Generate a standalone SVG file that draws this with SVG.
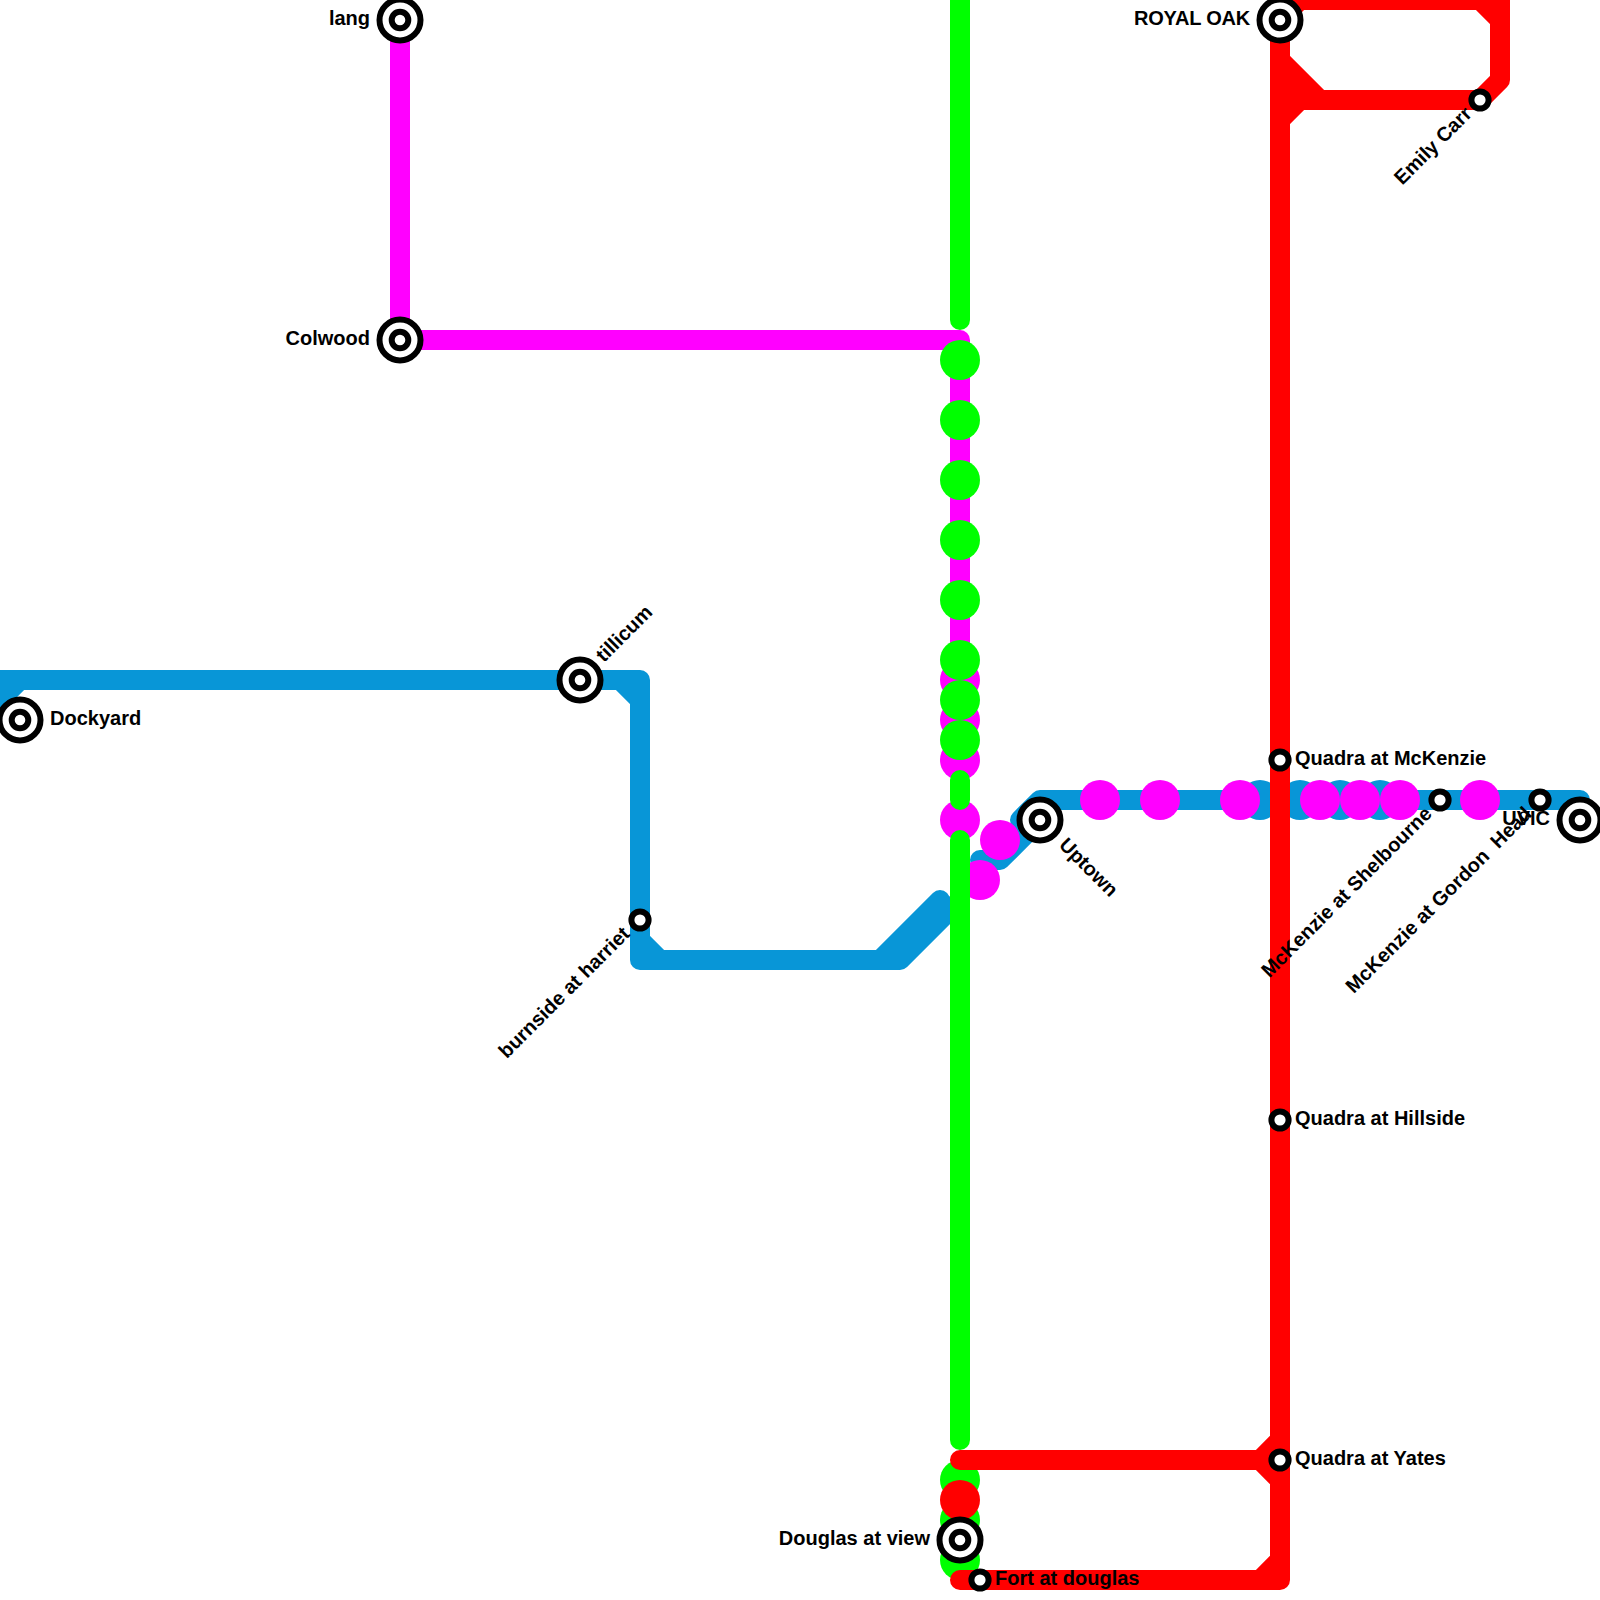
<svg xmlns="http://www.w3.org/2000/svg" width="1600" height="1600" viewBox="0 0 1600 1600">
<style>
.l{fill:none;stroke-width:20;stroke-linecap:round;stroke-linejoin:round}
.blue{stroke:#0896d7}.mag{stroke:#ff00ff}.grn{stroke:#00ff00}.red{stroke:#ff0000}
.fb{fill:#0896d7}.fm{fill:#ff00ff}.fg{fill:#00ff00}.fr{fill:#ff0000}
.ring{fill:#fff;stroke:#000;stroke-width:6}
text{font-family:"Liberation Sans",Arial,sans-serif;font-size:20px;font-weight:700;fill:#000;white-space:pre}
.e{text-anchor:end}
</style>
<defs>
<g id="big"><circle r="20.5" class="ring"/><circle r="8.3" class="ring"/></g>
<circle id="small" r="8.6" class="ring"/>
<circle id="dot" r="20"/>
</defs>
<rect width="1600" height="1600" fill="#fff"/>
<g id="connectors">
<g id="line-blue">
<path class="l blue" d="M-10 710L20 680M-10 680H640V960H900L960 900M620 680L640 700M640 940L660 960M880 960L940 900"/>
<path class="l blue" d="M1580 800H1040L1020 820M1040 820L1000 860H980"/>
<g class="fb"><use href="#dot" x="1260" y="800"/><use href="#dot" x="1300" y="800"/><use href="#dot" x="1340" y="800"/><use href="#dot" x="1380" y="800"/></g>
</g>
<g id="line-magenta">
<path class="l mag" d="M400 20V340H960V660"/>
<g class="fm"><use href="#dot" x="960" y="680"/><use href="#dot" x="960" y="720"/><use href="#dot" x="960" y="760"/><use href="#dot" x="960" y="820"/><use href="#dot" x="1000" y="840"/><use href="#dot" x="980" y="880"/><use href="#dot" x="1100" y="800"/><use href="#dot" x="1160" y="800"/><use href="#dot" x="1240" y="800"/><use href="#dot" x="1320" y="800"/><use href="#dot" x="1360" y="800"/><use href="#dot" x="1400" y="800"/><use href="#dot" x="1480" y="800"/></g>
</g>
<g id="line-green">
<path class="l grn" d="M960 -10V320M960 780V800M960 840V1440"/>
<g class="fg"><use href="#dot" x="960" y="360"/><use href="#dot" x="960" y="420"/><use href="#dot" x="960" y="480"/><use href="#dot" x="960" y="540"/><use href="#dot" x="960" y="600"/><use href="#dot" x="960" y="660"/><use href="#dot" x="960" y="700"/><use href="#dot" x="960" y="740"/><use href="#dot" x="960" y="1480"/><use href="#dot" x="960" y="1520"/><use href="#dot" x="960" y="1560"/></g>
</g>
<g id="line-red">
<path class="l red" d="M1280 20V1580H960M1280 20L1300 0H1500V80L1480 100H1320L1280 60M1320 100H1300L1280 120M960 1460H1260L1280 1440M1260 1460L1280 1480M1260 1580L1280 1560M1480 0L1500 20"/>
<path class="fr" d="M1490 -10H1510V10H1490ZM1280 60L1320 100L1280 120Z"/>
<use href="#dot" class="fr" x="960" y="1500"/>
</g>
</g>
<g id="n-lang"><use href="#big" x="400" y="20"/><text class="e" x="370" y="25">lang</text></g>
<g id="n-colwood"><use href="#big" x="400" y="340"/><text class="e" x="370" y="345">Colwood</text></g>
<g id="n-tillicum"><use href="#big" x="580" y="680"/><text transform="translate(604 663) rotate(-45)">tillicum</text></g>
<g id="n-dockyard"><use href="#big" x="20" y="720"/><text x="50" y="725">Dockyard</text></g>
<g id="n-harriet"><use href="#small" x="640" y="920"/><text class="e" transform="translate(631 935) rotate(-45)">burnside at harriet</text></g>
<g id="n-uptown"><use href="#big" x="1040" y="820"/><text transform="translate(1058 846) rotate(45)">Uptown</text></g>
<g id="n-royal-oak"><use href="#big" x="1280" y="20"/><text class="e" x="1250" y="25" style="letter-spacing:-0.2px">ROYAL OAK</text></g>
<g id="n-emily-carr"><use href="#small" x="1480" y="100"/><text class="e" transform="translate(1473 115) rotate(-45)">Emily Carr</text></g>
<g id="n-quadra-mckenzie"><use href="#small" x="1280" y="760"/><text x="1295" y="765">Quadra at McKenzie</text></g>
<g id="n-quadra-hillside"><use href="#small" x="1280" y="1120"/><text x="1295" y="1125">Quadra at Hillside</text></g>
<g id="n-quadra-yates"><use href="#small" x="1280" y="1460"/><text x="1295" y="1465">Quadra at Yates</text></g>
<g id="n-shelbourne"><use href="#small" x="1440" y="800"/><text class="e" transform="translate(1433 815) rotate(-45)">McKenzie at Shelbourne</text></g>
<g id="n-gordon-head"><use href="#small" x="1540" y="800"/><text class="e" transform="translate(1533 815) rotate(-45)">McKenzie at Gordon  Head</text></g>
<g id="n-uvic"><use href="#big" x="1580" y="820"/><text class="e" x="1550" y="825">UVIC</text></g>
<g id="n-douglas-view"><use href="#big" x="960" y="1540"/><text class="e" x="930" y="1545">Douglas at view</text></g>
<g id="n-fort-douglas"><use href="#small" x="980" y="1580"/><text x="995" y="1585">Fort at douglas</text></g>
</svg>
